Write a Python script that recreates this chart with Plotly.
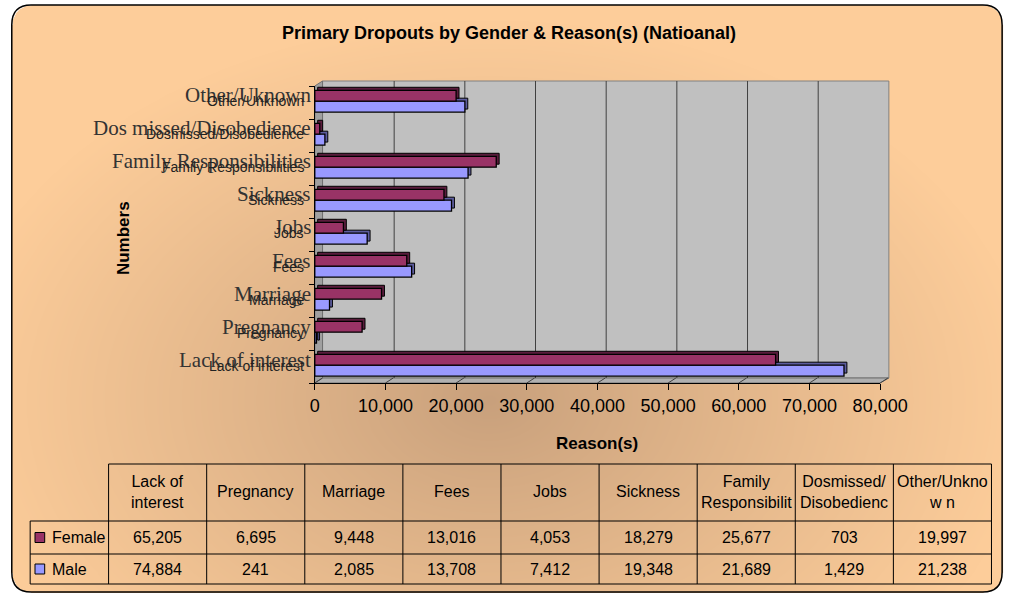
import base64
import struct
import zlib

import numpy as np
import plotly.graph_objects as go

# ---------------- data ----------------
CATEGORIES = ["Lack of interest", "Pregnancy", "Marriage", "Fees", "Jobs",
              "Sickness", "Family Responsibilities", "Dosmissed/Disobedience",
              "Other/Unknown"]
SERIF_LABELS = ["Lack of interest", "Pregnancy", "Marriage", "Fees", "Jobs",
                "Sickness", "Family Responsibilities", "Dos missed/Disobedience",
                "Other/Uknown"]
TABLE_HEADERS = ["Lack of<br>interest", "Pregnancy", "Marriage", "Fees", "Jobs",
                 "Sickness", "Family<br>Responsibilit", "Dosmissed/<br>Disobedienc",
                 "Other/Unkno<br>w n"]
FEMALE = [65205, 6695, 9448, 13016, 4053, 18279, 25677, 703, 19997]
MALE = [74884, 241, 2085, 13708, 7412, 19348, 21689, 1429, 21238]
SERIES_NAMES = ["Female", "Male"]
X_TICKS = [0, 10000, 20000, 30000, 40000, 50000, 60000, 70000, 80000]
TITLE = "Primary Dropouts by Gender & Reason(s) (Natioanal)"
X_TITLE = "Reason(s)"
Y_TITLE = "Numbers"

# ---------------- geometry / style ----------------
W, H = 1034, 596
PL, PR, PT, PB = 320, 904, 86, 383     # plot area in pixels
X_MAX = 80000
DEPTH = 8                               # 3D wall offset (px)
BAR_DEPTH = 3                           # 3D bar offset (px)
FEMALE_COLOR = "#993366"
MALE_COLOR = "#9999FF"
FEMALE_DARK = "#5a1c3c"
MALE_DARK = "#5c5c9e"
SANS = "Liberation Sans, Arial, sans-serif"
SERIF = "Liberation Serif, Times New Roman, serif"


def X(px):
    return px / W


def Y(py):
    return 1 - py / H


scale = (PR - PL) / X_MAX


def vx(v):
    return PL + v * scale


# ---------------- background gradient image ----------------
def make_bg():
    yy, xx = np.mgrid[0:H, 0:W].astype(float)
    cx, cy, rx, ry = 500, 400, 560, 380
    t = np.clip(np.sqrt(((xx - cx) / rx) ** 2 + ((yy - cy) / ry) ** 2), 0, 1)
    inner = np.array([200, 160, 124], float)
    outer = np.array([253, 205, 154], float)
    rgb = inner[None, None, :] + (outer - inner)[None, None, :] * (t[..., None] ** 0.9)
    # rounded rect mask
    x0, y0, x1, y1, r = 7, 5, 1030, 592, 20
    inside = (xx >= x0) & (xx <= x1) & (yy >= y0) & (yy <= y1)
    for (ccx, ccy) in [(x0 + r, y0 + r), (x1 - r, y0 + r), (x0 + r, y1 - r), (x1 - r, y1 - r)]:
        corner = (np.abs(xx - ccx) <= r) & (np.abs(yy - ccy) <= r) & \
                 (((xx < x0 + r) | (xx > x1 - r)) & ((yy < y0 + r) | (yy > y1 - r)))
        inside &= ~(corner & ((xx - ccx) ** 2 + (yy - ccy) ** 2 > r * r))
    alpha = np.where(inside, 255, 0)
    arr = np.dstack([rgb, alpha]).astype(np.uint8)
    raw = b"".join(b"\x00" + arr[i].tobytes() for i in range(H))

    def chunk(tag, data):
        return struct.pack(">I", len(data)) + tag + data + struct.pack(">I", zlib.crc32(tag + data) & 0xffffffff)

    png = b"\x89PNG\r\n\x1a\n" + chunk(b"IHDR", struct.pack(">IIBBBBB", W, H, 8, 6, 0, 0, 0)) + \
        chunk(b"IDAT", zlib.compress(raw, 6)) + chunk(b"IEND", b"")
    return "data:image/png;base64," + base64.b64encode(png).decode()


fig = go.Figure()

dx_units = BAR_DEPTH / scale
dy_units = BAR_DEPTH / ((PB - PT) / len(CATEGORIES))
F_OFF, M_OFF, BW = 0.04, -0.29, 0.33

# shadows (3D depth) first
fig.add_trace(go.Bar(y=CATEGORIES, x=MALE, base=dx_units, orientation="h",
                     offset=M_OFF + dy_units, width=BW,
                     marker=dict(color=MALE_DARK, line=dict(color="#000000", width=1)),
                     showlegend=False, hoverinfo="skip"))
fig.add_trace(go.Bar(y=CATEGORIES, x=FEMALE, base=dx_units, orientation="h",
                     offset=F_OFF + dy_units, width=BW,
                     marker=dict(color=FEMALE_DARK, line=dict(color="#000000", width=1)),
                     showlegend=False, hoverinfo="skip"))
fig.add_trace(go.Bar(y=CATEGORIES, x=MALE, orientation="h", name=SERIES_NAMES[1],
                     offset=M_OFF, width=BW,
                     marker=dict(color=MALE_COLOR, line=dict(color="#000000", width=1.3)),
                     showlegend=False))
fig.add_trace(go.Bar(y=CATEGORIES, x=FEMALE, orientation="h", name=SERIES_NAMES[0],
                     offset=F_OFF, width=BW,
                     marker=dict(color=FEMALE_COLOR, line=dict(color="#000000", width=1.3)),
                     showlegend=False))

shapes = []
# back wall
shapes.append(dict(type="rect", xref="paper", yref="paper", layer="below",
                   x0=X(PL + DEPTH), x1=X(PR + DEPTH + 1), y0=Y(PB - 5), y1=Y(PT - 5),
                   fillcolor="#c0c0c0", line=dict(color="#808080", width=1)))
# left wall
shapes.append(dict(type="path", xref="paper", yref="paper", layer="below",
                   path=f"M {X(PL)} {Y(PT)} L {X(PL + DEPTH)} {Y(PT - 5)} L {X(PL + DEPTH)} {Y(PB - 5)} L {X(PL)} {Y(PB)} Z",
                   fillcolor="#a0a0a0", line=dict(color="#707070", width=1)))
# floor
shapes.append(dict(type="path", xref="paper", yref="paper", layer="below",
                   path=f"M {X(PL)} {Y(PB)} L {X(PL + DEPTH)} {Y(PB - 5)} L {X(PR + DEPTH + 1)} {Y(PB - 5)} L {X(PR)} {Y(PB)} Z",
                   fillcolor="#b0b0b0", line=dict(color="#707070", width=1)))
# gridlines on back wall + floor ticks
for v in X_TICKS:
    p = vx(v)
    if 0 < v < X_MAX:
        shapes.append(dict(type="line", xref="paper", yref="paper", layer="below",
                           x0=X(p + DEPTH + 1), x1=X(p + DEPTH + 1), y0=Y(PB - 5), y1=Y(PT - 5),
                           line=dict(color="#404040", width=1)))
    shapes.append(dict(type="line", xref="paper", yref="paper", layer="below",
                       x0=X(p), x1=X(p + DEPTH), y0=Y(PB), y1=Y(PB - 5),
                       line=dict(color="#404040", width=1)))

# outer rounded border
r = 20
bx0, by0, bx1, by1 = 7, 5, 1030, 592
path = (f"M {X(bx0 + r)} {Y(by0)} L {X(bx1 - r)} {Y(by0)} "
        f"Q {X(bx1)} {Y(by0)} {X(bx1)} {Y(by0 + r)} L {X(bx1)} {Y(by1 - r)} "
        f"Q {X(bx1)} {Y(by1)} {X(bx1 - r)} {Y(by1)} L {X(bx0 + r)} {Y(by1)} "
        f"Q {X(bx0)} {Y(by1)} {X(bx0)} {Y(by1 - r)} L {X(bx0)} {Y(by0 + r)} "
        f"Q {X(bx0)} {Y(by0)} {X(bx0 + r)} {Y(by0)} Z")
shapes.append(dict(type="path", xref="paper", yref="paper", layer="above", path=path,
                   line=dict(color="#000000", width=1.5)))

# ---------------- data table ----------------
T_LEFT, T_COL0, T_RIGHT = 26, 107, 1019
T_TOP, T_HEAD_BOT, T_ROW1_BOT, T_ROW2_BOT = 464, 521, 554, 584
ncol = len(CATEGORIES)
cw = (T_RIGHT - T_COL0) / ncol
line_k = dict(color="#000000", width=1)
shapes.append(dict(type="line", xref="paper", yref="paper", x0=X(T_COL0), x1=X(T_RIGHT),
                   y0=Y(T_TOP), y1=Y(T_TOP), line=line_k))
for yy in [T_HEAD_BOT, T_ROW1_BOT, T_ROW2_BOT]:
    shapes.append(dict(type="line", xref="paper", yref="paper", x0=X(T_LEFT), x1=X(T_RIGHT),
                       y0=Y(yy), y1=Y(yy), line=line_k))
shapes.append(dict(type="line", xref="paper", yref="paper", x0=X(T_LEFT), x1=X(T_LEFT),
                   y0=Y(T_HEAD_BOT), y1=Y(T_ROW2_BOT), line=line_k))
for i in range(ncol + 1):
    xx = T_COL0 + i * cw
    shapes.append(dict(type="line", xref="paper", yref="paper", x0=X(xx), x1=X(xx),
                       y0=Y(T_TOP), y1=Y(T_ROW2_BOT), line=line_k))

annotations = []
row_centers = [(T_HEAD_BOT + T_ROW1_BOT) / 2, (T_ROW1_BOT + T_ROW2_BOT) / 2]
for i, (hdr, f, m) in enumerate(zip(TABLE_HEADERS, FEMALE, MALE)):
    cx = T_COL0 + (i + 0.5) * cw
    annotations.append(dict(x=X(cx), y=Y((T_TOP + T_HEAD_BOT) / 2 - 1), xref="paper", yref="paper",
                            text=hdr, showarrow=False, font=dict(family=SANS, size=16, color="#000"),
                            xanchor="center", yanchor="middle", align="center"))
    for rc, val in zip(row_centers, [f, m]):
        annotations.append(dict(x=X(cx), y=Y(rc), xref="paper", yref="paper",
                                text=f"{val:,}", showarrow=False,
                                font=dict(family=SANS, size=16, color="#000"),
                                xanchor="center", yanchor="middle"))
for rc, name, col in zip(row_centers, SERIES_NAMES, [FEMALE_COLOR, MALE_COLOR]):
    shapes.append(dict(type="rect", xref="paper", yref="paper",
                       x0=X(31), x1=X(41), y0=Y(rc - 5), y1=Y(rc + 5),
                       fillcolor=col, line=dict(color="#000000", width=1)))
    annotations.append(dict(x=X(46), y=Y(rc), xref="paper", yref="paper", text=name,
                            showarrow=False, font=dict(family=SANS, size=16, color="#000"),
                            xanchor="left", yanchor="middle"))

# ---------------- category labels (double rendering) ----------------
for cat, serif in zip(CATEGORIES, SERIF_LABELS):
    annotations.append(dict(x=X(318), y=cat, xref="paper", yref="y", text=serif,
                            showarrow=False, xanchor="right", yanchor="middle", yshift=7,
                            font=dict(family=SERIF, size=21, color="#333333")))
    annotations.append(dict(x=X(311), y=cat, xref="paper", yref="y", text=cat,
                            showarrow=False, xanchor="right", yanchor="middle", yshift=1,
                            font=dict(family=SANS, size=14, color="#222222")))

# titles
annotations.append(dict(x=X(521), y=Y(33), xref="paper", yref="paper", text=f"<b>{TITLE}</b>",
                        showarrow=False, xanchor="center", yanchor="middle",
                        font=dict(family=SANS, size=18, color="#000")))
annotations.append(dict(x=X(611), y=Y(443), xref="paper", yref="paper", text=f"<b>{X_TITLE}</b>",
                        showarrow=False, xanchor="center", yanchor="middle",
                        font=dict(family=SANS, size=17, color="#000")))
annotations.append(dict(x=X(122), y=Y(238), xref="paper", yref="paper", text=f"<b>{Y_TITLE}</b>",
                        showarrow=False, xanchor="center", yanchor="middle", textangle=-90,
                        font=dict(family=SANS, size=17, color="#000")))

fig.update_layout(
    width=W, height=H,
    margin=dict(l=0, r=0, t=0, b=0),
    paper_bgcolor="#ffffff",
    plot_bgcolor="rgba(0,0,0,0)",
    barmode="overlay",
    showlegend=False,
    images=[dict(source=make_bg(), xref="paper", yref="paper", x=0, y=1, sizex=1, sizey=1,
                 xanchor="left", yanchor="top", sizing="stretch", layer="below")],
    shapes=shapes,
    annotations=annotations,
    xaxis=dict(domain=[X(PL), X(PR)], range=[0, X_MAX], tickvals=X_TICKS, tickformat=",",
               showgrid=False, zeroline=False, showline=True, linecolor="#000000", linewidth=1,
               ticks="outside", ticklen=6, tickcolor="#000000",
               tickfont=dict(family=SANS, size=18, color="#000")),
    yaxis=dict(domain=[Y(PB), Y(PT)], range=[-0.5, len(CATEGORIES) - 0.5], type="category",
               categoryorder="array", categoryarray=CATEGORIES,
               showgrid=False, zeroline=False, showline=True, linecolor="#000000", linewidth=1,
               ticks="outside", ticklen=5, tickcolor="#000000", tickson="boundaries",
               showticklabels=False),
)

fig.write_html("out.html", config={"displayModeBar": False},
               post_script="document.body.style.margin='0px';document.body.style.overflow='hidden';")
